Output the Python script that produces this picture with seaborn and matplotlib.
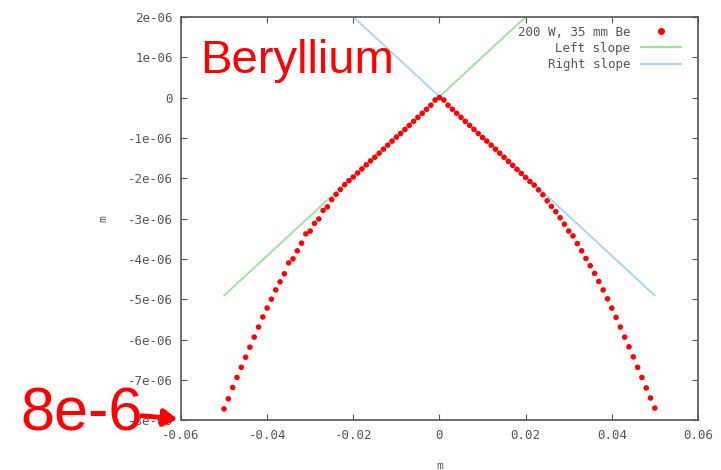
import numpy as np
import pandas as pd
import matplotlib
matplotlib.use("Agg")
import matplotlib.pyplot as plt
import seaborn as sns
from matplotlib.lines import Line2D

# measured sag (m) vs position (m), x step 0.001 m
pos_x = np.round(np.linspace(-0.05, 0.05, 101), 3)
sag_um = [
    -7.72, -7.47, -7.19, -6.94, -6.69, -6.44, -6.19, -5.94, -5.69, -5.44,
    -5.22, -5.00, -4.77, -4.57, -4.37, -4.10, -4.00, -3.80, -3.61, -3.38,
    -3.31, -3.12, -3.01, -2.80, -2.71, -2.53, -2.40, -2.28, -2.16, -2.06,
    -1.97, -1.87, -1.77, -1.67, -1.57, -1.48, -1.38, -1.28, -1.18, -1.08,
    -0.98, -0.89, -0.79, -0.69, -0.59, -0.49, -0.39, -0.29, -0.19, -0.06,
    0.00,
    -0.06, -0.19, -0.29, -0.39, -0.49, -0.59, -0.69, -0.79, -0.89, -0.99,
    -1.08, -1.18, -1.28, -1.38, -1.48, -1.58, -1.68, -1.78, -1.88, -1.98,
    -2.08, -2.17, -2.29, -2.41, -2.56, -2.70, -2.83, -2.98, -3.14, -3.31,
    -3.43, -3.62, -3.80, -3.99, -4.17, -4.36, -4.56, -4.77, -4.99, -5.22,
    -5.45, -5.69, -5.94, -6.18, -6.43, -6.69, -6.94, -7.20, -7.45, -7.70,
]
sag = np.array(sag_um) * 1e-6

# fitted slopes, end points over the data range
slope_x = [-0.05, 0.05]
left_slope = [-4.91e-6, 4.96e-6]
right_slope = [4.96e-6, -4.91e-6]

sns.set_style("ticks")
plt.rcParams["font.family"] = ["DejaVu Sans Mono", "DejaVu Sans"]
plt.rcParams["axes.unicode_minus"] = False

grey = "#555555"
fig = plt.figure(figsize=(7.21, 4.70), dpi=100)
ax = fig.add_axes([0.251, 0.106, 0.717, 0.858])

df = pd.DataFrame({"x": pos_x, "y": sag})
lines = pd.DataFrame({
    "x": slope_x * 2,
    "y": left_slope + right_slope,
    "fit": ["Left slope"] * 2 + ["Right slope"] * 2,
})

sns.lineplot(data=lines, x="x", y="y", hue="fit",
             palette={"Left slope": "#9ee09e", "Right slope": "#a8d2f5"},
             linewidth=1.3, ax=ax, legend=False)
sns.scatterplot(data=df, x="x", y="y", color="#ff0000", s=16,
                edgecolor="none", ax=ax, zorder=3)

ax.set_xlim(-0.06, 0.06)
ax.set_ylim(-8e-6, 2e-6)
ax.set_xticks([-0.06, -0.04, -0.02, 0, 0.02, 0.04, 0.06])
ax.set_xticklabels(["-0.06", "-0.04", "-0.02", "0", "0.02", "0.04", "0.06"])
ax.set_yticks(np.arange(-8, 3) * 1e-6)
ax.set_yticklabels(["%de-06" % v if v != 0 else "0" for v in range(-8, 3)])
ax.tick_params(direction="in", length=4, width=0.8, colors=grey,
               labelsize=9, top=True, right=True, pad=6)
for s in ax.spines.values():
    s.set_color(grey)
    s.set_linewidth(1.2)
ax.set_xlabel("m", color=grey, fontsize=8, labelpad=14)
ax.set_ylabel("m", color=grey, fontsize=8, labelpad=14)

# legend drawn like gnuplot key
handles = [
    Line2D([], [], marker="o", color="#ff0000", linestyle="none", markersize=4),
    Line2D([], [], color="#9ee09e", linewidth=1.6),
    Line2D([], [], color="#a8d2f5", linewidth=1.6),
]
leg = ax.legend(handles, ["200 W, 35 mm Be", "Left slope", "Right slope"],
                loc="upper right", frameon=False, markerfirst=False,
                fontsize=9, handlelength=3.2, labelspacing=0.25,
                borderaxespad=0.3, handletextpad=0.9,
                bbox_to_anchor=(0.985, 1.0))
for t in leg.get_texts():
    t.set_color(grey)
leg._legend_box.align = "right"

fig.text(0.277, 0.87, "Beryllium", color="#ff0000", fontsize=34,
         family="Liberation Sans", va="center", ha="left")
fig.text(0.028, 0.118, "8e-6", color="#ff0000", fontsize=44,
         family="Liberation Sans", va="center", ha="left")
ax.annotate("", xy=(0.25, 0.108), xycoords="figure fraction",
            xytext=(0.193, 0.116), textcoords="figure fraction",
            arrowprops=dict(arrowstyle="-|>,head_length=0.8,head_width=0.5",
                            color="#ff0000", lw=3.5))

fig.savefig("out.png", dpi=100)
